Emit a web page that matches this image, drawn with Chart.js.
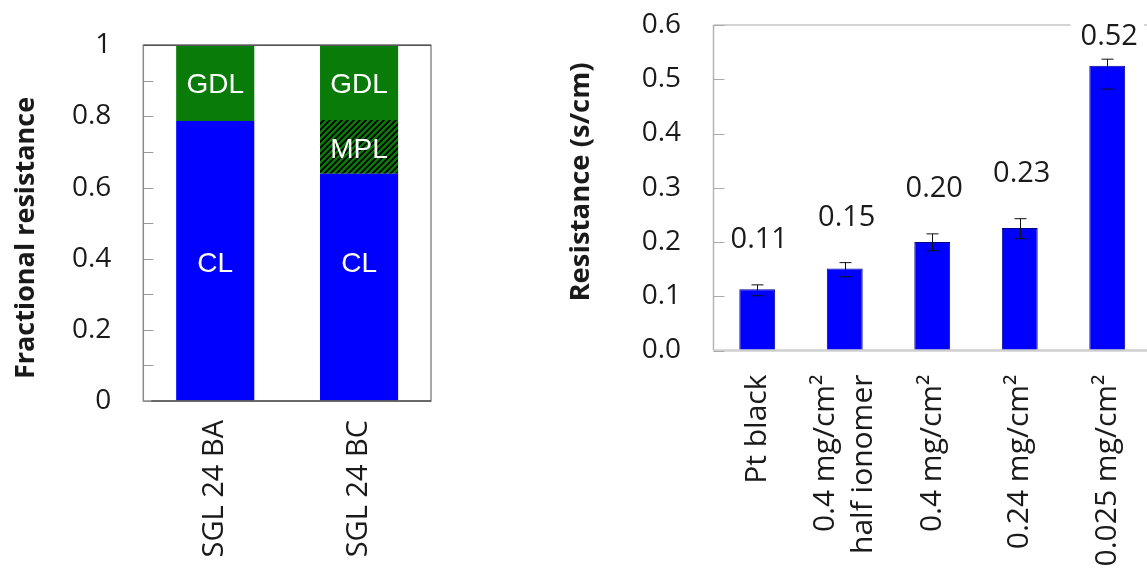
<!DOCTYPE html>
<html><head><meta charset="utf-8">
<script src="https://cdn.jsdelivr.net/npm/chart.js@4/dist/chart.umd.min.js"></script>
<style>
html,body{margin:0;padding:0;background:#fff;overflow:hidden;width:1147px;height:569px;position:relative;}
#c1{position:absolute;left:0;top:0;}
#c2{position:absolute;left:540px;top:0;}
</style></head><body>
<canvas id="c1" width="560" height="569" style="width:560px;height:569px"></canvas>
<canvas id="c2" width="620" height="569" style="width:620px;height:569px"></canvas>
<script>
// ---------- Left chart data ----------
const fracCategories = ['SGL 24 BA', 'SGL 24 BC'];
const clValues  = [0.787, 0.639];
const mplValues = [0, 0.151];
const gdlValues = [0.213, 0.210];
const segmentNames = ['CL', 'MPL', 'GDL'];
const fracTickLabels = ['0', '', '0.2', '', '0.4', '', '0.6', '', '0.8', '', '1'];
const fracTitle = 'Fractional resistance';

// ---------- Right chart data ----------
const resCategories = [['Pt black'], ['0.4 mg/cm²', 'half ionomer'], ['0.4 mg/cm²'], ['0.24 mg/cm²'], ['0.025 mg/cm²']];
const resValues  = [0.113, 0.151, 0.200, 0.226, 0.525];
const resErrHigh = [0.121, 0.162, 0.215, 0.243, 0.537];
const resErrLow  = [0.101, 0.136, 0.184, 0.206, 0.482];
const resValueLabels = ['0.11', '0.15', '0.20', '0.23', '0.52'];
const resTickLabels = ['0.0', '0.1', '0.2', '0.3', '0.4', '0.5', '0.6'];
const resTitle = 'Resistance (s/cm)';

const BLUE = '#0000FF';
const GREEN = '#097B09';
const TXT = '#1a1a1a';

function hatchPattern(ctx) {
  const s = 6;
  const c = document.createElement('canvas');
  c.width = s; c.height = s;
  const g = c.getContext('2d');
  g.fillStyle = GREEN; g.fillRect(0, 0, s, s);
  g.strokeStyle = '#000'; g.lineWidth = 1.8;
  g.beginPath();
  g.moveTo(-1, 1); g.lineTo(1, -1);
  g.moveTo(0, s); g.lineTo(s, 0);
  g.moveTo(s - 1, s + 1); g.lineTo(s + 1, s - 1);
  g.stroke();
  return ctx.createPattern(c, 'repeat');
}

// ---------- Left chart ----------
const ctx1 = document.getElementById('c1').getContext('2d');
const leftPlugin = {
  id: 'leftDecor',
  beforeDatasetsDraw(chart) {
    const { ctx, chartArea: a, scales: { y } } = chart;
    ctx.save();
    ctx.strokeStyle = '#9a9a9a'; ctx.lineWidth = 1;
    y.ticks.forEach(t => {
      const py = Math.round(y.getPixelForValue(t.value)) + 0.5;
      ctx.beginPath(); ctx.moveTo(a.left, py); ctx.lineTo(a.left + 10, py); ctx.stroke();
    });
    ctx.restore();
  },
  afterDatasetsDraw(chart) {
    const { ctx, chartArea: a } = chart;
    ctx.save();
    // segment labels
    ctx.fillStyle = '#fff';
    ctx.font = '28px "Liberation Sans", Arial, sans-serif';
    ctx.textAlign = 'center'; ctx.textBaseline = 'middle';
    chart.data.datasets.forEach((ds, d) => {
      const meta = chart.getDatasetMeta(d);
      const centers = meta.data.map((el, i) => ds.data[i] > 0 ? (el.y + el.base) / 2 : Infinity);
      const top = Math.min(...centers);
      meta.data.forEach((el, i) => {
        if (ds.data[i] > 0) ctx.fillText(segmentNames[d], el.x, top + 3);
      });
    });
    // frame
    ctx.strokeStyle = '#8a8a8a'; ctx.lineWidth = 1.5;
    ctx.strokeRect(a.left, a.top, a.right - a.left, a.bottom - a.top);
    ctx.strokeStyle = '#555'; ctx.lineWidth = 1.5;
    ctx.beginPath(); ctx.moveTo(a.left, a.top); ctx.lineTo(a.right, a.top); ctx.stroke();
    ctx.beginPath(); ctx.moveTo(a.left + 8, a.bottom); ctx.lineTo(a.right, a.bottom); ctx.stroke();
    // title
    ctx.fillStyle = TXT;
    ctx.font = 'bold 27px "Open Sans", sans-serif';
    ctx.translate(26, 238);
    ctx.rotate(-Math.PI / 2);
    ctx.textAlign = 'center'; ctx.textBaseline = 'middle';
    ctx.fillText(fracTitle, 0, 0);
    ctx.restore();
  }
};

new Chart(ctx1, {
  type: 'bar',
  data: {
    labels: fracCategories,
    datasets: [
      { label: segmentNames[0], data: clValues, backgroundColor: BLUE },
      { label: segmentNames[1], data: mplValues, backgroundColor: hatchPattern(ctx1) },
      { label: segmentNames[2], data: gdlValues, backgroundColor: GREEN }
    ].map(d => Object.assign(d, { barPercentage: 0.543, categoryPercentage: 1, borderWidth: 0 }))
  },
  options: {
    responsive: false, animation: false, devicePixelRatio: 1,
    layout: { padding: { top: 45.3, right: 129, left: 0, bottom: 0 } },
    plugins: { legend: { display: false }, tooltip: { enabled: false } },
    scales: {
      x: {
        stacked: true,
        grid: { display: false, drawTicks: false },
        border: { display: false },
        ticks: { minRotation: 90, maxRotation: 90, padding: 19, autoSkip: false, color: TXT,
                 font: { family: '"Open Sans", sans-serif', size: 29 } },
        afterFit(s) { s.height = 168; s.paddingLeft = 0; s.paddingRight = 0; }
      },
      y: {
        stacked: true, min: 0, max: 1,
        grid: { display: false, drawTicks: false },
        border: { display: false },
        ticks: { stepSize: 0.1, padding: 32, color: TXT, autoSkip: false,
                 font: { family: '"Open Sans", sans-serif', size: 28 },
                 callback: (v, i) => fracTickLabels[i] },
        afterFit(s) { s.width = 143.3; s.paddingTop = 0; s.paddingBottom = 0; }
      }
    }
  },
  plugins: [leftPlugin]
});

// ---------- Right chart ----------
const ctx2 = document.getElementById('c2').getContext('2d');
const rightPlugin = {
  id: 'rightDecor',
  afterDatasetsDraw(chart) {
    const { ctx, chartArea: a, scales: { x, y } } = chart;
    const meta = chart.getDatasetMeta(0);
    ctx.save();
    // error bars
    ctx.strokeStyle = '#111'; ctx.lineWidth = 1;
    meta.data.forEach((el, i) => {
      const px = Math.round(el.x) + 0.5;
      const yh = y.getPixelForValue(resErrHigh[i]);
      const yl = y.getPixelForValue(resErrLow[i]);
      ctx.beginPath();
      ctx.moveTo(px, yh); ctx.lineTo(px, yl);
      ctx.moveTo(px - 6, yh); ctx.lineTo(px + 6, yh);
      ctx.moveTo(px - 6, yl); ctx.lineTo(px + 6, yl);
      ctx.stroke();
    });
    // top border
    ctx.strokeStyle = '#c4c4c4'; ctx.lineWidth = 1.5;
    ctx.beginPath(); ctx.moveTo(a.left, a.top); ctx.lineTo(a.right, a.top); ctx.stroke();
    // value labels with white backing
    ctx.font = '29px "Open Sans", sans-serif';
    ctx.textAlign = 'center'; ctx.textBaseline = 'middle';
    meta.data.forEach((el, i) => {
      const ly = Math.max(y.getPixelForValue(resErrHigh[i]) - 45, a.top + 12);
      const w = ctx.measureText(resValueLabels[i]).width;
      ctx.fillStyle = '#fff';
      ctx.fillRect(el.x - w / 2 - 8, ly - 14, w + 16, 28);
      ctx.fillStyle = TXT;
      ctx.fillText(resValueLabels[i], el.x + 2, ly);
    });
    // left axis, bottom axis, inner ticks
    ctx.strokeStyle = '#b4b4b4'; ctx.lineWidth = 1.5;
    ctx.beginPath(); ctx.moveTo(a.left, a.top); ctx.lineTo(a.left, a.bottom); ctx.stroke();
    ctx.strokeStyle = '#cfcfcf'; ctx.lineWidth = 2.5;
    ctx.beginPath(); ctx.moveTo(a.left, a.bottom); ctx.lineTo(a.right, a.bottom); ctx.stroke();
    ctx.strokeStyle = '#aaa'; ctx.lineWidth = 1;
    y.ticks.forEach(t => {
      const py = Math.round(y.getPixelForValue(t.value)) + 0.5;
      ctx.beginPath(); ctx.moveTo(a.left, py); ctx.lineTo(a.left + 11, py); ctx.stroke();
    });
    // x labels (rotated, multi-line centred on each category)
    ctx.fillStyle = TXT;
    ctx.font = '30px "Open Sans", sans-serif';
    const lineGap = 38;
    resCategories.forEach((lines, i) => {
      const px = x.getPixelForValue(i);
      lines.forEach((ln, k) => {
        const off = (k - (lines.length - 1) / 2) * lineGap;
        ctx.save();
        ctx.translate(px + off, a.bottom + 24);
        ctx.rotate(-Math.PI / 2);
        ctx.textAlign = 'right'; ctx.textBaseline = 'middle';
        ctx.fillText(ln, 0, 0);
        ctx.restore();
      });
    });
    // title
    ctx.font = 'bold 27.5px "Open Sans", sans-serif';
    ctx.translate(41, 182);
    ctx.rotate(-Math.PI / 2);
    ctx.textAlign = 'center'; ctx.textBaseline = 'middle';
    ctx.fillText(resTitle, 0, 0);
    ctx.restore();
  }
};

new Chart(ctx2, {
  type: 'bar',
  data: {
    labels: resCategories,
    datasets: [{
      data: resValues, backgroundColor: BLUE, borderColor: '#00008B', borderWidth: 1,
      barPercentage: 0.41, categoryPercentage: 1
    }]
  },
  options: {
    responsive: false, animation: false, devicePixelRatio: 1,
    layout: { padding: { top: 25, right: 9, left: 0, bottom: 0 } },
    plugins: { legend: { display: false }, tooltip: { enabled: false } },
    scales: {
      x: {
        grid: { display: false, drawTicks: false },
        border: { display: false },
        ticks: { display: false },
        afterFit(s) { s.height = 218.5; s.paddingLeft = 0; s.paddingRight = 0; }
      },
      y: {
        min: 0, max: 0.6,
        grid: { display: false, drawTicks: false },
        border: { display: false },
        ticks: { stepSize: 0.1, padding: 32.5, color: TXT, autoSkip: false,
                 font: { family: '"Open Sans", sans-serif', size: 28 },
                 callback: (v, i) => resTickLabels[i] },
        afterFit(s) { s.width = 173.5; s.paddingTop = 0; s.paddingBottom = 0; }
      }
    }
  },
  plugins: [rightPlugin]
});
</script>
</body></html>
